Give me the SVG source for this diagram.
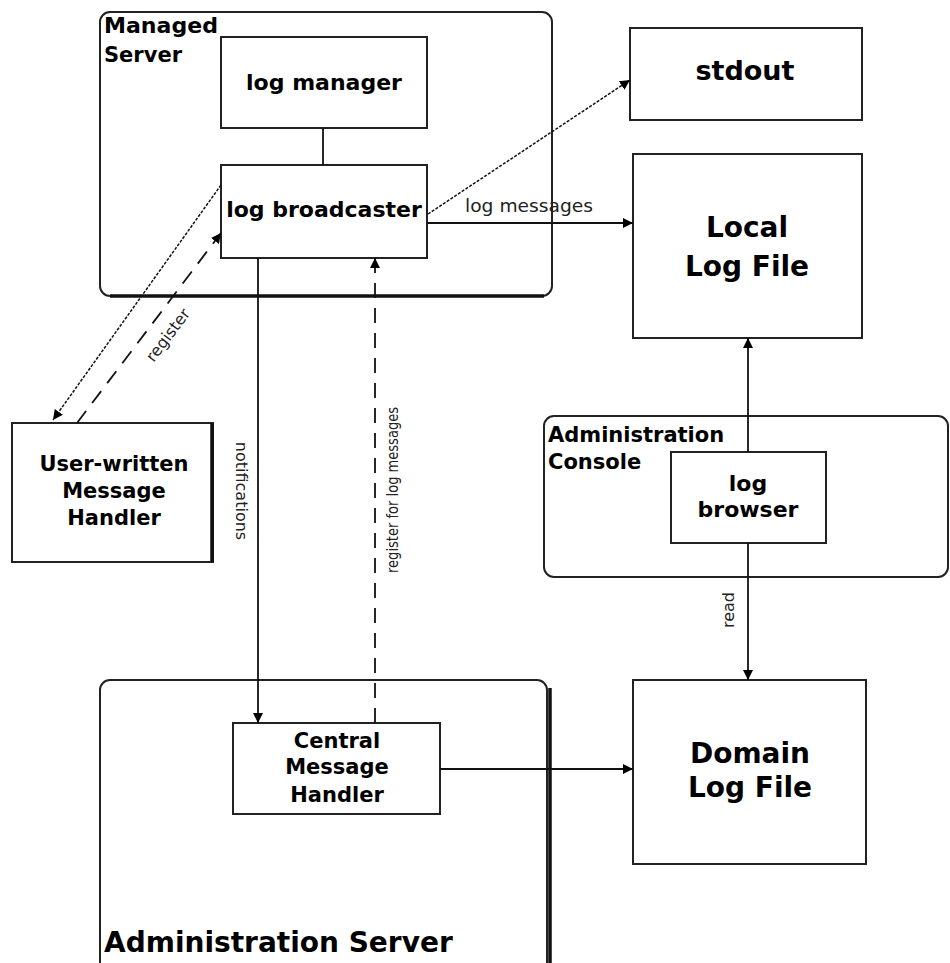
<svg xmlns="http://www.w3.org/2000/svg" width="950" height="963" viewBox="0 0 950 963">
<style>
.box{fill:#fff;stroke:#222;stroke-width:2}
.cont{fill:none;stroke:#222;stroke-width:2}
.thick{stroke:#111;stroke-width:3.5;fill:none}
.b{font-family:"DejaVu Sans","Liberation Sans",sans-serif;font-weight:bold;fill:#000}
.r{font-family:"DejaVu Sans","Liberation Sans",sans-serif;fill:#222}
.ln{stroke:#111;stroke-width:1.8;fill:none}
.dot{stroke:#111;stroke-width:1.5;fill:none;stroke-dasharray:3 1.5}
.dash{stroke:#111;stroke-width:1.8;fill:none;stroke-dasharray:15 10}
</style>
<defs>
<marker id="ah" viewBox="0 0 10 10" refX="10" refY="5" markerWidth="10" markerHeight="10" markerUnits="userSpaceOnUse" orient="auto">
<path d="M0,0 L10,5 L0,10 z" fill="#000"/>
</marker>
</defs>

<g id="managed-server">
<rect class="cont" x="100" y="12" width="452" height="284" rx="10"/>
<line class="thick" x1="110" y1="296" x2="544" y2="296"/>
<text class="b" x="104" y="33" font-size="21" textLength="114" lengthAdjust="spacingAndGlyphs">Managed</text>
<text class="b" x="104" y="62" font-size="21">Server</text>
</g>

<g id="log-manager">
<rect class="box" x="221" y="37" width="206" height="91"/>
<text class="b" x="324" y="90" font-size="22" text-anchor="middle">log manager</text>
</g>

<g id="log-broadcaster">
<rect class="box" x="221" y="165" width="206" height="93"/>
<text class="b" x="324" y="217" font-size="22" text-anchor="middle">log broadcaster</text>
</g>

<g id="stdout">
<rect class="box" x="630" y="28" width="232" height="92"/>
<text class="b" x="745" y="80" font-size="27" text-anchor="middle">stdout</text>
</g>

<g id="local-log-file">
<rect class="box" x="633" y="154" width="229" height="184"/>
<text class="b" x="747" y="237" font-size="28" text-anchor="middle">Local</text>
<text class="b" x="747" y="276" font-size="28" text-anchor="middle">Log File</text>
</g>

<g id="user-written-handler">
<rect class="box" x="12" y="423" width="201" height="139"/>
<line class="thick" x1="212" y1="423" x2="212" y2="562" stroke-width="3"/>
<text class="b" x="114" y="471" font-size="21" text-anchor="middle">User-written</text>
<text class="b" x="114" y="498" font-size="21" text-anchor="middle">Message</text>
<text class="b" x="114" y="525" font-size="21" text-anchor="middle">Handler</text>
</g>

<g id="administration-console">
<rect class="cont" x="544" y="416" width="404" height="161" rx="10"/>
<text class="b" x="548" y="442" font-size="21">Administration</text>
<text class="b" x="548" y="469" font-size="21">Console</text>
</g>

<g id="log-browser">
<rect class="box" x="671" y="452" width="155" height="91"/>
<text class="b" x="748" y="491" font-size="22" text-anchor="middle">log</text>
<text class="b" x="748" y="517" font-size="22" text-anchor="middle">browser</text>
</g>

<g id="administration-server">
<rect class="cont" x="100" y="680" width="447" height="310" rx="10"/>
<line class="thick" x1="550" y1="688" x2="550" y2="963"/>
<text class="b" x="104" y="952" font-size="28">Administration Server</text>
</g>

<g id="central-message-handler">
<rect class="box" x="233" y="723" width="207" height="91"/>
<text class="b" x="337" y="748" font-size="21" text-anchor="middle">Central</text>
<text class="b" x="337" y="774" font-size="21" text-anchor="middle">Message</text>
<text class="b" x="337" y="802" font-size="21" text-anchor="middle">Handler</text>
</g>

<g id="domain-log-file">
<rect class="box" x="633" y="680" width="233" height="184"/>
<text class="b" x="750" y="763" font-size="28" text-anchor="middle">Domain</text>
<text class="b" x="750" y="797" font-size="28" text-anchor="middle">Log File</text>
</g>

<g id="connectors">
<line class="ln" x1="323" y1="128" x2="323" y2="165"/>
<line class="dot" x1="428" y1="214" x2="630" y2="80" marker-end="url(#ah)"/>
<line class="ln" x1="427" y1="223" x2="633" y2="223" marker-end="url(#ah)"/>
<text class="r" x="465" y="212" font-size="17" textLength="128" lengthAdjust="spacingAndGlyphs">log messages</text>
<line class="dot" x1="221" y1="185" x2="53" y2="420" marker-end="url(#ah)"/>
<line class="dash" x1="77" y1="423" x2="221" y2="233" marker-end="url(#ah)"/>
<text class="r" font-size="16" text-anchor="middle" dominant-baseline="central" transform="translate(168,335) rotate(-53)">register</text>
<line class="ln" x1="258" y1="258" x2="258" y2="723" marker-end="url(#ah)"/>
<text class="r" font-size="16" text-anchor="middle" dominant-baseline="central" transform="translate(241,491) rotate(90)">notifications</text>
<line class="dash" x1="375" y1="723" x2="375" y2="258" marker-end="url(#ah)"/>
<text class="r" font-size="16" text-anchor="middle" dominant-baseline="central" textLength="166" lengthAdjust="spacingAndGlyphs" transform="translate(392,490) rotate(-90)">register for log messages</text>
<line class="ln" x1="440" y1="769" x2="633" y2="769" marker-end="url(#ah)"/>
<line class="ln" x1="748" y1="452" x2="748" y2="338" marker-end="url(#ah)"/>
<line class="ln" x1="748" y1="543" x2="748" y2="680" marker-end="url(#ah)"/>
<text class="r" font-size="16" text-anchor="middle" dominant-baseline="central" transform="translate(728,610) rotate(-90)">read</text>
</g>
</svg>
